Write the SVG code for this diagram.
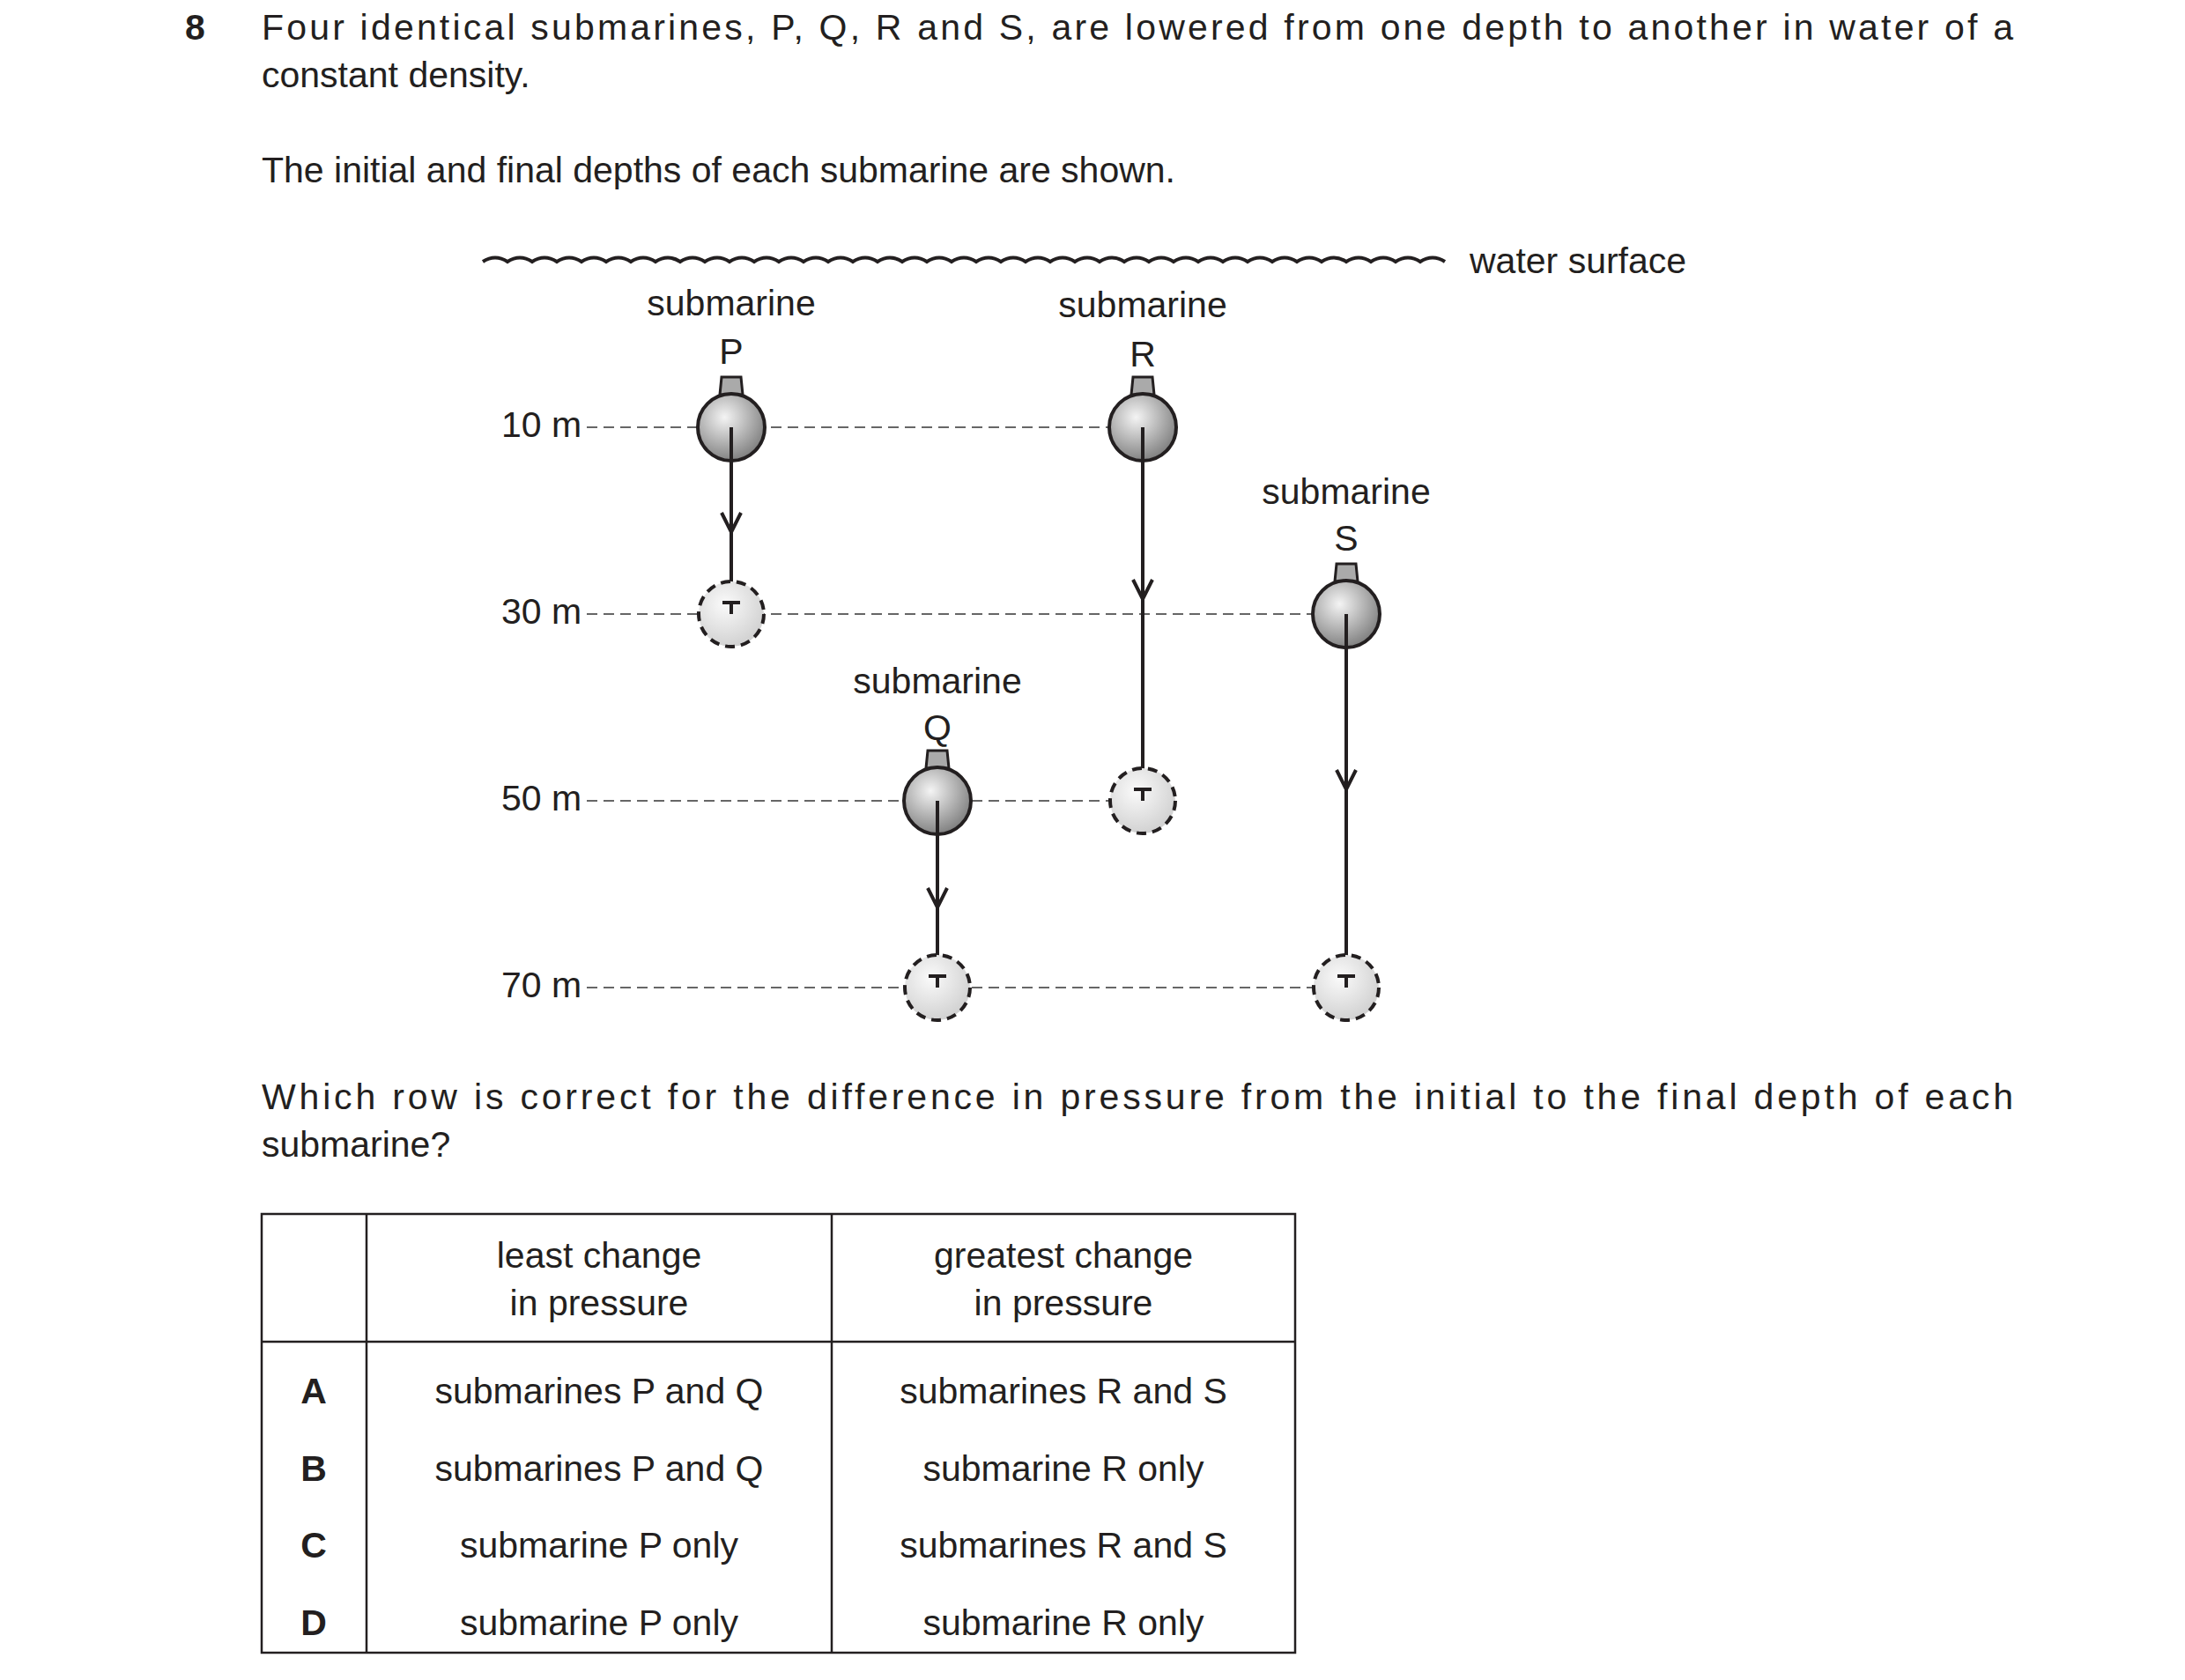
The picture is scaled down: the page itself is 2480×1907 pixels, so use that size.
<svg xmlns="http://www.w3.org/2000/svg" width="2480" height="1907" viewBox="0 0 2480 1907">
<style>
text{font-family:"Liberation Sans",Arial,sans-serif;font-size:41px;fill:#231f20}
.c{text-anchor:middle}
.b{font-weight:bold}
.dash{stroke:#666;stroke-width:2;stroke-dasharray:12,7;fill:none}
.ln{stroke:#231f20;stroke-width:4;fill:none}
.tb{stroke:#231f20;stroke-width:2.5;fill:none}
.init{fill:url(#gi);stroke:#231f20;stroke-width:4}
.fin{fill:url(#gf);stroke:#231f20;stroke-width:4;stroke-dasharray:11,7}
.tw{fill:#aaa;stroke:#231f20;stroke-width:3}
</style>
<defs>
<radialGradient id="gi" cx="0.4" cy="0.35" r="0.7"><stop offset="0" stop-color="#f4f4f4"/><stop offset="1" stop-color="#7a7a7a"/></radialGradient>
<radialGradient id="gf" cx="0.4" cy="0.35" r="0.7"><stop offset="0" stop-color="#fafafa"/><stop offset="1" stop-color="#cfcfcf"/></radialGradient>
<path id="ah" d="M-11,-22 L0,0 L11,-22" class="ln"/>
</defs>
<text x="210" y="45" class="b">8</text>
<text x="297" y="45" textLength="1988" lengthAdjust="spacing">Four identical submarines, P, Q, R and S, are lowered from one depth to another in water of a</text>
<text x="297" y="99">constant density.</text>
<text x="297" y="207">The initial and final depths of each submarine are shown.</text>
<g id="surface">
<path d="M548,297 q14,-9 28,0 q14,-9 28,0 q14,-9 28,0 q14,-9 28,0 q14,-9 28,0 q14,-9 28,0 q14,-9 28,0 q14,-9 28,0 q14,-9 28,0 q14,-9 28,0 q14,-9 28,0 q14,-9 28,0 q14,-9 28,0 q14,-9 28,0 q14,-9 28,0 q14,-9 28,0 q14,-9 28,0 q14,-9 28,0 q14,-9 28,0 q14,-9 28,0 q14,-9 28,0 q14,-9 28,0 q14,-9 28,0 q14,-9 28,0 q14,-9 28,0 q14,-9 28,0 q14,-9 28,0 q14,-9 28,0 q14,-9 28,0 q14,-9 28,0 q14,-9 28,0 q14,-9 28,0 q14,-9 28,0 q14,-9 28,0 q14,-9 28,0 q14,-9 28,0 q14,-9 28,0 q14,-9 28,0 q14,-9 28,0" class="ln" stroke-width="3"/>
<text x="1668" y="310">water surface</text>
</g>
<g id="depths">
<text x="569" y="496">10 m</text><text x="569" y="708">30 m</text><text x="569" y="920">50 m</text><text x="569" y="1132">70 m</text>
<path class="dash" d="M666,485 H1297 M666,697 H1528 M666,909 H1297 M666,1121 H1528"/>
</g>
<g id="connectors">
<path class="ln" d="M830,485 V684 M1064,909 V1108 M1297,485 V896 M1528,697 V1108"/>
<path class="ln" d="M820,684 H840 M1054,1108 H1074 M1287,896 H1307 M1518,1108 H1538" stroke-width="3"/>
</g>
<g id="finals">
<circle class="fin" cx="830" cy="697" r="37"/>
<circle class="fin" cx="1064" cy="1121" r="37"/>
<circle class="fin" cx="1297" cy="909" r="37"/>
<circle class="fin" cx="1528" cy="1121" r="37"/>
<path class="ln" d="M830,684 V697 M1064,1108 V1121 M1297,896 V909 M1528,1108 V1121 M820,684 H840 M1054,1108 H1074 M1287,896 H1307 M1518,1108 H1538" stroke-width="3"/>
</g>
<g id="subP"><text x="830" y="358" class="c">submarine</text><text x="830" y="413" class="c">P</text><path class="tw" d="M819,428 H841 L843,448 H817 Z"/><circle class="init" cx="830" cy="485" r="38"/><path class="ln" d="M830,485 V525"/><use href="#ah" x="830" y="604"/></g>
<g id="subQ"><text x="1064" y="787" class="c">submarine</text><text x="1064" y="840" class="c">Q</text><path class="tw" d="M1053,852 H1075 L1077,872 H1051 Z"/><circle class="init" cx="1064" cy="909" r="38"/><path class="ln" d="M1064,909 V949"/><use href="#ah" x="1064" y="1030"/></g>
<g id="subR"><text x="1297" y="360" class="c">submarine</text><text x="1297" y="416" class="c">R</text><path class="tw" d="M1286,428 H1308 L1310,448 H1284 Z"/><circle class="init" cx="1297" cy="485" r="38"/><path class="ln" d="M1297,485 V525"/><use href="#ah" x="1297" y="680"/></g>
<g id="subS"><text x="1528" y="572" class="c">submarine</text><text x="1528" y="625" class="c">S</text><path class="tw" d="M1517,640 H1539 L1541,660 H1515 Z"/><circle class="init" cx="1528" cy="697" r="38"/><path class="ln" d="M1528,697 V737"/><use href="#ah" x="1528" y="896"/></g>
<text x="297" y="1259" textLength="1988" lengthAdjust="spacing">Which row is correct for the difference in pressure from the initial to the final depth of each</text>
<text x="297" y="1313">submarine?</text>
<g id="table">
<rect x="297" y="1378" width="1173" height="498" class="tb"/>
<path class="tb" d="M416,1378 V1876 M944,1378 V1876 M297,1523 H1470"/>
<text x="680" y="1439" class="c">least change</text><text x="680" y="1493" class="c">in pressure</text>
<text x="1207" y="1439" class="c">greatest change</text><text x="1207" y="1493" class="c">in pressure</text>
<text x="356" y="1593" class="c b">A</text><text x="680" y="1593" class="c">submarines P and Q</text><text x="1207" y="1593" class="c">submarines R and S</text>
<text x="356" y="1681" class="c b">B</text><text x="680" y="1681" class="c">submarines P and Q</text><text x="1207" y="1681" class="c">submarine R only</text>
<text x="356" y="1768" class="c b">C</text><text x="680" y="1768" class="c">submarine P only</text><text x="1207" y="1768" class="c">submarines R and S</text>
<text x="356" y="1856" class="c b">D</text><text x="680" y="1856" class="c">submarine P only</text><text x="1207" y="1856" class="c">submarine R only</text>
</g>
</svg>
